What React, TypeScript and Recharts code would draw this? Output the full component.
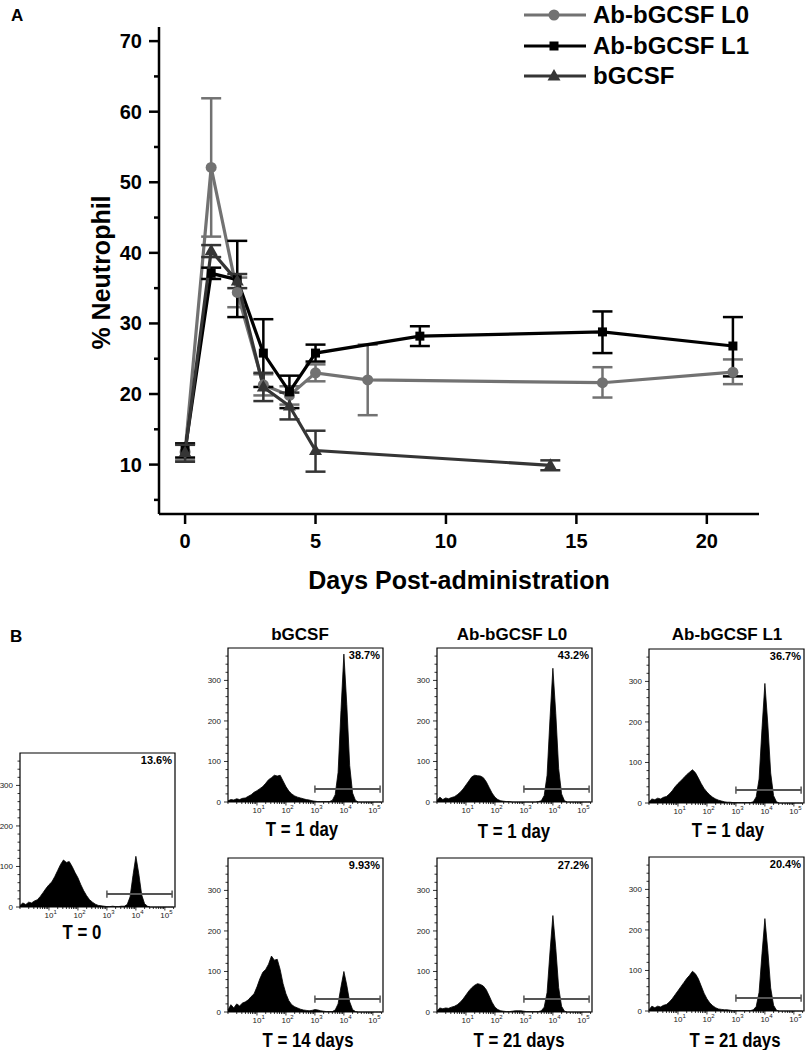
import React from "react"
import {
  LineChart,
  Line,
  XAxis,
  YAxis,
  ErrorBar,
  Legend,
  AreaChart,
  Area,
  ReferenceArea,
  ReferenceLine,
} from "recharts"

const SANS = "'Liberation Sans', Arial, Helvetica, sans-serif"

// ---------- panel A: % neutrophil vs days ----------
const L0_DAYS = [0, 1, 2, 3, 4, 5, 7, 16, 21]
const L0_MEAN = [11.8, 52.1, 34.4, 21.3, 19.8, 23.0, 22.0, 21.6, 23.1]
const L0_LOW = [10.6, 42.3, 32.3, 19.8, 18.5, 21.8, 17.0, 19.5, 21.4]
const L0_HIGH = [13.0, 61.9, 36.5, 22.8, 21.1, 24.2, 27.0, 23.8, 24.9]

const L1_DAYS = [0, 1, 2, 3, 4, 5, 9, 16, 21]
const L1_MEAN = [12.0, 37.1, 36.2, 25.8, 20.3, 25.8, 28.2, 28.8, 26.8]
const L1_LOW = [11.0, 36.3, 30.9, 21.0, 18.0, 24.6, 26.8, 25.8, 22.5]
const L1_HIGH = [13.0, 37.9, 41.7, 30.6, 22.6, 27.0, 29.6, 31.7, 30.9]

const BG_DAYS = [0, 1, 2, 3, 4, 5, 14]
const BG_MEAN = [11.7, 40.3, 36.0, 21.0, 18.3, 12.0, 9.9]
const BG_LOW = [10.4, 39.4, 35.0, 19.0, 16.4, 9.0, 9.2]
const BG_HIGH = [12.8, 41.1, 37.0, 23.0, 20.2, 14.8, 10.6]

const SERIES_NAMES = ["Ab-bGCSF L0", "Ab-bGCSF L1", "bGCSF"]
const SERIES_COLORS = ["#727272", "#000000", "#353535"]
const SERIES_SHAPES = ["circle", "square", "triangle"]

const X_TICKS = [0, 5, 10, 15, 20]
const Y_TICKS = [5, 10, 15, 20, 25, 30, 35, 40, 45, 50, 55, 60, 65, 70]

const toRows = (days: number[], mean: number[], low: number[], high: number[]) =>
  days.map((d, i) => ({ day: d, pct: mean[i], err: [mean[i] - low[i], high[i] - mean[i]] }))

const SERIES_DATA = [
  toRows(L0_DAYS, L0_MEAN, L0_LOW, L0_HIGH),
  toRows(L1_DAYS, L1_MEAN, L1_LOW, L1_HIGH),
  toRows(BG_DAYS, BG_MEAN, BG_LOW, BG_HIGH),
]

// ---------- panel B: flow histograms (log10 fluorescence bins) ----------
const BINS = [
  0, 0.1, 0.2, 0.3, 0.4, 0.5, 0.6, 0.7, 0.8, 0.9,
  1, 1.1, 1.2, 1.3, 1.4, 1.5, 1.6, 1.7, 1.8, 1.9,
  2, 2.1, 2.2, 2.3, 2.4, 2.5, 2.6, 2.7, 2.8, 2.9,
  3, 3.1, 3.2, 3.3, 3.4, 3.5, 3.6, 3.7, 3.8, 3.9,
  4, 4.1, 4.2, 4.3, 4.4, 4.5, 4.6, 4.7, 4.8, 4.9,
  5, 5.1, 5.2, 5.3,
]

const T0_COUNTS = [
  4, 10, 6, 12, 10, 15, 18, 26, 36, 46,
  55, 62, 75, 90, 105, 116, 110, 112, 100, 85,
  72, 55, 40, 28, 18, 12, 7, 4, 3, 2,
  1, 1, 2, 1, 1, 2, 2, 6, 25, 78,
  125, 82, 30, 8, 2, 0, 0, 0, 0, 0,
  0, 0, 0, 0,
]
const BG_D1_COUNTS = [
  3, 6, 5, 8, 6, 9, 10, 14, 18, 24,
  28, 33, 38, 46, 55, 60, 66, 64, 66, 52,
  38, 27, 20, 15, 12, 10, 8, 6, 5, 3,
  2, 1, 1, 1, 1, 1, 4, 18, 73, 226,
  365, 240, 90, 22, 4, 0, 0, 0, 0, 0,
  0, 0, 0, 0,
]
const L0_D1_COUNTS = [
  4, 12, 6, 10, 8, 11, 13, 18, 24, 32,
  42, 52, 62, 66, 65, 64, 60, 50, 36, 22,
  12, 6, 3, 2, 1, 1, 0, 0, 0, 0,
  0, 0, 0, 0, 0, 1, 3, 16, 66, 205,
  330, 218, 82, 20, 3, 0, 0, 0, 0, 0,
  0, 0, 0, 0,
]
const L1_D1_COUNTS = [
  3, 10, 8, 12, 10, 14, 16, 22, 30, 40,
  48, 55, 62, 70, 76, 82, 75, 62, 48, 36,
  27, 20, 14, 10, 7, 5, 3, 2, 2, 1,
  1, 1, 1, 1, 1, 1, 3, 15, 59, 183,
  295, 195, 74, 18, 3, 0, 0, 0, 0, 0,
  0, 0, 0, 0,
]
const BG_D14_COUNTS = [
  5, 18, 10, 20, 15, 22, 25, 30, 38, 45,
  62, 82, 98, 105, 118, 138, 128, 130, 105, 70,
  45, 28, 18, 13, 10, 7, 5, 4, 3, 4,
  6, 5, 3, 2, 1, 1, 1, 5, 20, 62,
  100, 66, 25, 6, 1, 0, 0, 0, 0, 0,
  0, 0, 0, 0,
]
const L0_D21_COUNTS = [
  3, 10, 8, 10, 9, 12, 14, 18, 24, 32,
  42, 52, 60, 66, 70, 68, 64, 55, 40, 24,
  12, 6, 3, 2, 1, 1, 2, 3, 3, 3,
  2, 1, 1, 1, 1, 1, 3, 12, 48, 148,
  238, 157, 60, 14, 2, 0, 0, 0, 0, 0,
  0, 0, 0, 0,
]
const L1_D21_COUNTS = [
  3, 12, 8, 12, 10, 14, 16, 22, 30, 40,
  50, 60, 70, 80, 88, 98, 92, 80, 62, 44,
  30, 20, 13, 8, 5, 4, 3, 3, 2, 1,
  1, 1, 1, 1, 1, 1, 3, 11, 46, 141,
  228, 150, 57, 14, 2, 0, 0, 0, 0, 0,
  0, 0, 0, 0,
]

const HIST_COUNTS = [T0_COUNTS, BG_D1_COUNTS, L0_D1_COUNTS, L1_D1_COUNTS, BG_D14_COUNTS, L0_D21_COUNTS, L1_D21_COUNTS]
const HIST_PCT = ["13.6%", "38.7%", "43.2%", "36.7%", "9.93%", "27.2%", "20.4%"]
const HIST_TIME = ["T = 0", "T = 1 day", "T = 1 day", "T = 1 day", "T = 14 days", "T = 21 days", "T = 21 days"]
const GROUP_TITLES = ["bGCSF", "Ab-bGCSF L0", "Ab-bGCSF L1"]
const GATE = [3, 5.25]
const GATE_LEVEL = 32

const HIST_Y_TICKS = [0, 20, 40, 60, 80, 100, 120, 140, 160, 180, 200, 220, 240, 260, 280, 300, 320, 340, 360]
const HIST_X_MAJOR = [1, 2, 3, 4, 5]
const HIST_X_TICKS = [0, 1, 2, 3, 4].flatMap((d) =>
  [1, 2, 3, 4, 5, 6, 7, 8, 9].map((k) => d + Math.log10(k))
).concat([5, 5 + Math.log10(2)])

// layout of the small panels (plot box left/top)
const BOX_W = 155
const BOX_H = 154
const HIST_POS = [
  { left: 20, top: 753, labelX: 82, labelY: 932 },
  { left: 228, top: 648, labelX: 302, labelY: 829 },
  { left: 437, top: 648, labelX: 514, labelY: 831 },
  { left: 649, top: 649, labelX: 728, labelY: 830 },
  { left: 228, top: 858, labelX: 308, labelY: 1040 },
  { left: 437, top: 858, labelX: 519, labelY: 1040 },
  { left: 649, top: 857, labelX: 735, labelY: 1040 },
]
const TITLE_POS = [300, 512, 727]

function Marker({ shape, cx, cy, color }: { shape: string; cx: number; cy: number; color: string }) {
  if (shape === "circle") return <circle cx={cx} cy={cy} r={5.5} fill={color} />
  if (shape === "square") return <rect x={cx - 4.5} y={cy - 4.5} width={9} height={9} fill={color} />
  return <polygon points={`${cx},${cy - 7} ${cx + 6.5},${cy + 4.5} ${cx - 6.5},${cy + 4.5}`} fill={color} />
}

function XTickA({ x, y, payload }: any) {
  return (
    <g>
      <line x1={x} x2={x} y1={y} y2={y + 10} stroke="#000" strokeWidth={2.5} />
      <text x={x} y={y + 34} textAnchor="middle" fontFamily={SANS} fontWeight={700} fontSize={20} fill="#000">
        {payload.value}
      </text>
    </g>
  )
}

function YTickA({ x, y, payload }: any) {
  const major = payload.value % 10 === 0
  return (
    <g>
      <line x1={x - (major ? 10 : 5)} x2={x} y1={y} y2={y} stroke="#000" strokeWidth={2.5} />
      {major && (
        <text x={x - 17} y={y + 7} textAnchor="end" fontFamily={SANS} fontWeight={700} fontSize={20} fill="#000">
          {payload.value}
        </text>
      )}
    </g>
  )
}

function LegendRows() {
  return (
    <div>
      {SERIES_NAMES.map((name, i) => (
        <div key={name} style={{ display: "flex", alignItems: "center", height: 30.5 }}>
          <svg width={70} height={24}>
            <line x1={4} x2={66} y1={12} y2={12} stroke={SERIES_COLORS[i]} strokeWidth={3} />
            <Marker shape={SERIES_SHAPES[i]} cx={34} cy={12} color={SERIES_COLORS[i]} />
          </svg>
          <span style={{ fontFamily: SANS, fontWeight: 700, fontSize: 24, lineHeight: "24px", marginLeft: 3, color: "#000" }}>
            {name}
          </span>
        </div>
      ))}
    </div>
  )
}

function YTickB({ x, y, payload }: any) {
  const v = payload.value
  const major = v % 100 === 0
  return (
    <g>
      <line x1={x - (major ? 4 : 2.5)} x2={x} y1={y} y2={y} stroke="#000" strokeWidth={0.8} />
      {major && (
        <text x={x - 7} y={y + 3} textAnchor="end" fontFamily={SANS} fontSize={8} fill="#222">
          {v}
        </text>
      )}
    </g>
  )
}

function XTickB({ x, y, payload }: any) {
  const v = payload.value
  const major = Math.abs(v - Math.round(v)) < 1e-6 && HIST_X_MAJOR.includes(Math.round(v))
  return (
    <g>
      <line x1={x} x2={x} y1={y} y2={y + (major ? 3.5 : 2)} stroke="#000" strokeWidth={0.8} />
      {major && (
        <text x={x - 4.5} y={y + 11} fontFamily={SANS} fontSize={8} fill="#222">
          10
          <tspan dy={-4.5} fontSize={6}>
            {Math.round(v)}
          </tspan>
        </text>
      )}
    </g>
  )
}

function FlowHist({ idx }: { idx: number }) {
  const pos = HIST_POS[idx]
  const data = BINS.map((b, i) => ({ log: b, count: HIST_COUNTS[idx][i] }))
  return (
    <>
      <div style={{ position: "absolute", left: pos.left - 30, top: pos.top - 4 }}>
        <AreaChart width={30 + BOX_W + 4} height={4 + BOX_H + 20} data={data} margin={{ top: 4, right: 4, bottom: 0, left: 0 }}>
          <XAxis
            type="number"
            dataKey="log"
            domain={[0, 5.35]}
            ticks={HIST_X_TICKS}
            interval={0}
            tickSize={0}
            tickMargin={0}
            tickLine={false}
            axisLine={false}
            height={20}
            tick={(p: any) => <XTickB {...p} />}
          />
          <YAxis
            type="number"
            domain={[0, 380]}
            ticks={HIST_Y_TICKS}
            interval={0}
            tickSize={0}
            tickMargin={0}
            tickLine={false}
            axisLine={false}
            width={30}
            tick={(p: any) => <YTickB {...p} />}
          />
          <Area
            type="linear"
            dataKey="count"
            stroke="#000"
            strokeWidth={0.8}
            fill="#000"
            fillOpacity={1}
            isAnimationActive={false}
          />
          <ReferenceArea
            x1={0}
            x2={5.35}
            y1={0}
            y2={380}
            fill="none"
            fillOpacity={0}
            stroke="#000"
            strokeWidth={1.2}
            label={{
              value: HIST_PCT[idx],
              position: "insideTopRight",
              offset: 3,
              fontSize: 11,
              fontWeight: 700,
              fontFamily: SANS,
              fill: "#000",
            }}
          />
          <ReferenceLine
            segment={[{ x: GATE[0], y: GATE_LEVEL }, { x: GATE[1], y: GATE_LEVEL }]}
            stroke="#555"
            strokeWidth={2}
          />
          <ReferenceLine
            segment={[{ x: GATE[0], y: GATE_LEVEL - 9 }, { x: GATE[0], y: GATE_LEVEL + 9 }]}
            stroke="#555"
            strokeWidth={1.5}
          />
          <ReferenceLine
            segment={[{ x: GATE[1], y: GATE_LEVEL - 9 }, { x: GATE[1], y: GATE_LEVEL + 9 }]}
            stroke="#555"
            strokeWidth={1.5}
          />
        </AreaChart>
      </div>
      <div
        style={{
          position: "absolute",
          left: pos.labelX - 80,
          width: 160,
          top: pos.labelY - 10,
          textAlign: "center",
          fontFamily: SANS,
          fontWeight: 700,
          fontSize: 20,
          lineHeight: "20px",
          color: "#000",
          transform: "scaleX(0.84)",
        }}
      >
        {HIST_TIME[idx]}
      </div>
    </>
  )
}

export default function App() {
  return (
    <div style={{ position: "absolute", left: 0, top: 0, width: 807, height: 1050, background: "#fff", fontFamily: SANS }}>
      <div style={{ position: "absolute", left: 11, top: 7, fontSize: 17, fontWeight: 700, lineHeight: "17px" }}>A</div>
      <div style={{ position: "absolute", left: 0, top: 0 }}>
        <LineChart width={807} height={620} margin={{ top: 27, right: 48, bottom: 0, left: 0 }}>
          <XAxis
            type="number"
            dataKey="day"
            domain={[-1, 22]}
            ticks={X_TICKS}
            interval={0}
            allowDataOverflow
            tickSize={0}
            tickMargin={0}
            tickLine={false}
            axisLine={{ stroke: "#000", strokeWidth: 2.5 }}
            height={106}
            tick={(p: any) => <XTickA {...p} />}
          />
          <YAxis
            type="number"
            domain={[3, 72]}
            ticks={Y_TICKS}
            interval={0}
            allowDataOverflow
            tickSize={0}
            tickMargin={0}
            tickLine={false}
            axisLine={{ stroke: "#000", strokeWidth: 2.5 }}
            width={159}
            tick={(p: any) => <YTickA {...p} />}
          />
          <Legend
            layout="vertical"
            align="center"
            verticalAlign="middle"
            content={() => <LegendRows />}
            wrapperStyle={{ left: 520, top: 0, width: 287 }}
          />
          {SERIES_NAMES.map((name, i) => (
            <Line
              key={name}
              name={name}
              data={SERIES_DATA[i]}
              dataKey="pct"
              type="linear"
              stroke={SERIES_COLORS[i]}
              strokeWidth={3.2}
              isAnimationActive={false}
              dot={(p: any) => (
                <Marker key={`${name}-${p.index}`} shape={SERIES_SHAPES[i]} cx={p.cx} cy={p.cy} color={SERIES_COLORS[i]} />
              )}
              activeDot={false}
            >
              <ErrorBar dataKey="err" width={10} stroke={SERIES_COLORS[i]} strokeWidth={2.5} direction="y" />
            </Line>
          ))}
        </LineChart>
      </div>
      <div
        style={{
          position: "absolute",
          left: 259,
          width: 400,
          top: 568,
          textAlign: "center",
          fontSize: 25,
          lineHeight: "25px",
          fontWeight: 700,
        }}
      >
        Days Post-administration
      </div>
      <div
        style={{
          position: "absolute",
          left: 101 - 150,
          width: 300,
          top: 272 - 12.5,
          height: 25,
          textAlign: "center",
          fontSize: 25,
          lineHeight: "25px",
          fontWeight: 700,
          transform: "rotate(-90deg)",
        }}
      >
        % Neutrophil
      </div>

      <div style={{ position: "absolute", left: 10, top: 628, fontSize: 17, fontWeight: 700, lineHeight: "17px" }}>B</div>
      {GROUP_TITLES.map((t, i) => (
        <div
          key={t}
          style={{
            position: "absolute",
            left: TITLE_POS[i] - 80,
            width: 160,
            top: 634 - 8.5,
            textAlign: "center",
            fontSize: 17,
            lineHeight: "17px",
            fontWeight: 700,
          }}
        >
          {t}
        </div>
      ))}
      {HIST_POS.map((_, i) => (
        <FlowHist key={i} idx={i} />
      ))}
    </div>
  )
}
